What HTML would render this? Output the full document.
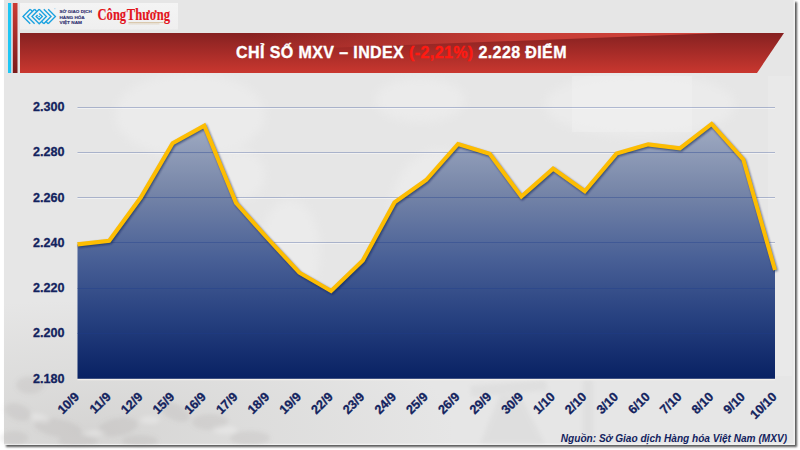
<!DOCTYPE html>
<html><head><meta charset="utf-8">
<style>
html,body{margin:0;padding:0;width:800px;height:450px;overflow:hidden;background:#ffffff;}
body{position:relative;font-family:"Liberation Sans",sans-serif;}
.abs{position:absolute;}
#card{left:4px;top:0;width:791px;height:445px;background:#e6e6e6;
 box-shadow:2px 2px 2px rgba(0,0,0,0.65), inset -1.5px -1.5px 0 rgba(255,255,255,0.45);}
#title{left:1.5px;top:44px;width:800px;text-align:center;color:#fff;font-weight:bold;font-size:16px;line-height:18px;letter-spacing:0.4px;white-space:nowrap;-webkit-text-stroke:0.35px #fff;}
#title span{-webkit-text-stroke:0.35px #ff1a12;}
#title span{color:#ff1a12;}
svg{position:absolute;left:0;top:0;}
</style></head>
<body>
<div id="card" class="abs"></div>
<svg width="800" height="450" viewBox="0 0 800 450">
 <defs>
  <linearGradient id="ban" x1="0" y1="0" x2="0" y2="1">
   <stop offset="0" stop-color="#862121"/>
   <stop offset="1" stop-color="#c9372f"/>
  </linearGradient>
  <linearGradient id="wedge" x1="250" y1="0" x2="722" y2="0" gradientUnits="userSpaceOnUse">
   <stop offset="0" stop-color="#c63c35" stop-opacity="0"/>
   <stop offset="0.55" stop-color="#c63c35" stop-opacity="1"/>
   <stop offset="1" stop-color="#d0433b" stop-opacity="1"/>
  </linearGradient>
  <linearGradient id="rbar" x1="0" y1="0" x2="0" y2="1">
   <stop offset="0" stop-color="#cc3b33"/>
   <stop offset="1" stop-color="#7a1b1b"/>
  </linearGradient>
  <linearGradient id="area" x1="0" y1="107" x2="0" y2="379" gradientUnits="userSpaceOnUse">
   <stop offset="0" stop-color="#abb5c9"/>
   <stop offset="0.3" stop-color="#7887a9"/>
   <stop offset="0.55" stop-color="#4a6197"/>
   <stop offset="0.78" stop-color="#26407f"/>
   <stop offset="1" stop-color="#082163"/>
  </linearGradient>
  <radialGradient id="beans" cx="90" cy="430" r="260" gradientUnits="userSpaceOnUse" gradientTransform="translate(90 430) scale(1.4 0.5) translate(-90 -430)">
   <stop offset="0" stop-color="#bcbab7" stop-opacity="0.4"/>
   <stop offset="0.6" stop-color="#c4c3c0" stop-opacity="0.2"/>
   <stop offset="1" stop-color="#c4c1bc" stop-opacity="0"/>
  </radialGradient>
  <linearGradient id="logop" x1="0" y1="0" x2="0" y2="1">
   <stop offset="0" stop-color="#f4f4f4"/>
   <stop offset="1" stop-color="#efefef"/>
  </linearGradient>
  <filter id="blur6" x="-50%" y="-50%" width="200%" height="200%">
   <feGaussianBlur stdDeviation="5"/>
  </filter>
  <filter id="blur2" x="-50%" y="-50%" width="200%" height="200%">
   <feGaussianBlur stdDeviation="2"/>
  </filter>
  <filter id="shd" x="-5%" y="-20%" width="110%" height="140%">
   <feGaussianBlur stdDeviation="1.1"/>
  </filter>
  <clipPath id="areaclip"><polygon points="77.5,378.7 77.5,244.4 109.2,240.8 140.9,197.3 172.6,143.3 204.3,125.6 236.0,202.8 267.7,238.5 299.4,272.7 331.1,291 362.8,260.5 394.5,202.4 426.2,180 458.0,144 489.7,153.8 521.4,196.6 553.1,168.6 584.8,191.2 616.5,153.6 648.2,144.4 679.9,148.4 711.6,124 743.3,159.5 775,270 775,378.7"/></clipPath>
 </defs>
 <!-- background -->
 <rect x="4" y="300" width="791" height="144" fill="url(#beans)"/>
 <g fill="#ffffff" opacity="0.2" filter="url(#blur6)">
  <ellipse cx="190" cy="115" rx="75" ry="42"/>
  <ellipse cx="240" cy="175" rx="25" ry="25"/>
  <ellipse cx="290" cy="250" rx="30" ry="50"/>
  <ellipse cx="420" cy="100" rx="45" ry="22"/>
  <ellipse cx="440" cy="215" rx="50" ry="65"/>
  <ellipse cx="640" cy="105" rx="95" ry="32"/>
 </g>
 <rect x="572" y="76" width="120" height="56" fill="#ffffff" opacity="0.18"/>
 <rect x="768" y="76" width="24" height="300" fill="#ffffff" opacity="0.15"/>
 <g filter="url(#blur2)">
  <g fill="#8a8580" opacity="0.13">
   <ellipse cx="18" cy="412" rx="14" ry="8" transform="rotate(20 18 412)"/>
   <ellipse cx="14" cy="438" rx="14" ry="7"/>
   <ellipse cx="58" cy="428" rx="24" ry="9" transform="rotate(10 58 428)"/>
   <ellipse cx="78" cy="441" rx="20" ry="6"/>
   <ellipse cx="118" cy="427" rx="20" ry="9" transform="rotate(-10 118 427)"/>
   <ellipse cx="140" cy="441" rx="18" ry="6"/>
   <ellipse cx="175" cy="412" rx="16" ry="8" transform="rotate(25 175 412)"/>
   <ellipse cx="210" cy="422" rx="18" ry="8"/>
   <ellipse cx="250" cy="438" rx="20" ry="7"/>
   <ellipse cx="30" cy="385" rx="14" ry="9"/>
  </g>
  <g fill="#ffffff" opacity="0.25">
   <ellipse cx="40" cy="418" rx="10" ry="4" transform="rotate(15 40 418)"/>
   <ellipse cx="95" cy="433" rx="10" ry="3"/>
   <ellipse cx="150" cy="420" rx="10" ry="4"/>
   <ellipse cx="225" cy="430" rx="12" ry="4"/>
  </g>
 </g>
 <g fill="#9a9a9a" opacity="0.09" filter="url(#blur2)">
  <polygon points="470,386 545,380 548,390 472,397"/>
  <polygon points="500,395 520,395 545,444 480,444"/>
  <rect x="583" y="380" width="10" height="64"/>
 </g>
 <!-- bars -->
 <rect x="8" y="3" width="3.2" height="70" fill="#1ec6f4"/>
 <rect x="12.8" y="3" width="4.7" height="70" fill="url(#rbar)"/>
 <!-- logo panel -->
 <rect x="20" y="3" width="158" height="26.5" fill="url(#logop)"/>
 <g fill="none" stroke="#1aa2e0" stroke-width="1.35" stroke-linejoin="miter" stroke-linecap="butt">
  <polyline points="30.2,9.3 23.0,16.5 30.2,23.7"/>
  <polyline points="34.6,9.3 27.4,16.5 34.6,23.7"/>
  <polyline points="39.2,9.3 32.0,16.5 39.2,23.7 46.4,16.5 39.2,9.3"/>
  <polyline points="43.8,9.3 51.0,16.5 43.8,23.7"/>
  <polyline points="48.2,9.3 55.4,16.5 48.2,23.7"/>
  <polyline points="30.2,9.3 32.6,11.7"/>
  <polyline points="34.6,9.3 37.0,11.7"/>
  <polyline points="48.2,23.7 45.8,21.3"/>
  <polyline points="43.8,23.7 41.4,21.3"/>
  <polyline points="39.2,13.4 42.3,16.5 39.2,19.6 36.1,16.5 37.6,15"/>
 </g>
 <circle cx="39.2" cy="16.5" r="0.8" fill="#1aa2e0"/>
 <rect x="54" y="8.6" width="1.6" height="0.5" fill="#7fc6ec"/>
 <g fill="#2c2c6e" stroke="#2c2c6e" stroke-width="0.12" font-family="Liberation Sans" font-weight="bold" font-size="4.4">
  <text x="59.5" y="13.1" textLength="32.3" lengthAdjust="spacingAndGlyphs">SỞ GIAO DỊCH</text>
  <text x="59.5" y="18.5" textLength="25.2" lengthAdjust="spacingAndGlyphs">HÀNG HÓA</text>
  <text x="59.5" y="23.8" textLength="22.5" lengthAdjust="spacingAndGlyphs">VIỆT NAM</text>
 </g>
 <text x="97.5" y="20.2" fill="#e3141c" stroke="#e3141c" stroke-width="0.15" font-family="Liberation Serif" font-weight="bold" font-size="16.5" textLength="72.5" lengthAdjust="spacingAndGlyphs" word-spacing="-3">Công Thương</text>
 <rect x="128.5" y="22.1" width="34.5" height="0.9" fill="#cdb48c" opacity="0.75"/>
 <rect x="128.5" y="23.5" width="31" height="0.8" fill="#cdb48c" opacity="0.55"/>
 <!-- banner -->
 <polygon points="20,33 784,33 757,73 20,73" fill="url(#ban)"/>
 <polygon points="250,33 722,33 250,51" fill="url(#wedge)"/>
 <!-- chart -->
 <g stroke="#ffffff" stroke-opacity="0.45" stroke-width="1">
  <line x1="77.5" y1="108.5" x2="775" y2="108.5"/>
  <line x1="77.5" y1="153.5" x2="775" y2="153.5"/>
  <line x1="77.5" y1="198.5" x2="775" y2="198.5"/>
  <line x1="77.5" y1="243.5" x2="775" y2="243.5"/>
  <line x1="77.5" y1="289.5" x2="775" y2="289.5"/>
  <line x1="77.5" y1="334.5" x2="775" y2="334.5"/>
 </g>
 <g stroke="#1f3c8c" stroke-opacity="0.3" stroke-width="1.1">
  <line x1="77.5" y1="107.5" x2="775" y2="107.5"/>
  <line x1="77.5" y1="152.5" x2="775" y2="152.5"/>
  <line x1="77.5" y1="197.5" x2="775" y2="197.5"/>
  <line x1="77.5" y1="242.5" x2="775" y2="242.5"/>
  <line x1="77.5" y1="288.5" x2="775" y2="288.5"/>
  <line x1="77.5" y1="333.5" x2="775" y2="333.5"/>
 </g>
 <polygon fill="url(#area)" points="77.5,378.7 77.5,244.4 109.2,240.8 140.9,197.3 172.6,143.3 204.3,125.6 236.0,202.8 267.7,238.5 299.4,272.7 331.1,291 362.8,260.5 394.5,202.4 426.2,180 458.0,144 489.7,153.8 521.4,196.6 553.1,168.6 584.8,191.2 616.5,153.6 648.2,144.4 679.9,148.4 711.6,124 743.3,159.5 775,270 775,378.7"/>
 <g stroke="#1f3c8c" stroke-opacity="0.36" stroke-width="1.1" clip-path="url(#areaclip)">
  <line x1="77.5" y1="107.5" x2="775" y2="107.5"/>
  <line x1="77.5" y1="152.5" x2="775" y2="152.5"/>
  <line x1="77.5" y1="197.5" x2="775" y2="197.5"/>
  <line x1="77.5" y1="242.5" x2="775" y2="242.5"/>
  <line x1="77.5" y1="288.5" x2="775" y2="288.5"/>
  <line x1="77.5" y1="333.5" x2="775" y2="333.5"/>
 </g>
 <line x1="77.5" y1="379.6" x2="775" y2="379.6" stroke="#f4f0ea" stroke-width="1.2"/>
 <polyline fill="none" stroke="#0a1a50" stroke-opacity="0.6" stroke-width="4" stroke-linejoin="miter" filter="url(#shd)" transform="translate(1,1.3)" points="77.5,244.4 109.2,240.8 140.9,197.3 172.6,143.3 204.3,125.6 236.0,202.8 267.7,238.5 299.4,272.7 331.1,291 362.8,260.5 394.5,202.4 426.2,180 458.0,144 489.7,153.8 521.4,196.6 553.1,168.6 584.8,191.2 616.5,153.6 648.2,144.4 679.9,148.4 711.6,124 743.3,159.5 775,270"/>
 <polyline fill="none" stroke="#fdbd02" stroke-width="4.1" stroke-linejoin="miter" points="77.5,244.4 109.2,240.8 140.9,197.3 172.6,143.3 204.3,125.6 236.0,202.8 267.7,238.5 299.4,272.7 331.1,291 362.8,260.5 394.5,202.4 426.2,180 458.0,144 489.7,153.8 521.4,196.6 553.1,168.6 584.8,191.2 616.5,153.6 648.2,144.4 679.9,148.4 711.6,124 743.3,159.5 775,270"/>
 <g fill="#13235e" stroke="#13235e" stroke-width="0.3" font-family="Liberation Sans" font-weight="bold" font-size="12.6" text-anchor="end">
  <text x="64.5" y="111">2.300</text>
  <text x="64.5" y="156.3">2.280</text>
  <text x="64.5" y="201.6">2.260</text>
  <text x="64.5" y="246.9">2.240</text>
  <text x="64.5" y="292.1">2.220</text>
  <text x="64.5" y="337.4">2.200</text>
  <text x="64.5" y="382.7">2.180</text>
 </g>
 <g fill="#13235e" stroke="#13235e" stroke-width="0.3" font-family="Liberation Sans" font-weight="bold" font-size="12.6" text-anchor="end">
  <text transform="translate(80,397.5) rotate(-45)">10/9</text>
  <text transform="translate(111.7,397.5) rotate(-45)">11/9</text>
  <text transform="translate(143.4,397.5) rotate(-45)">12/9</text>
  <text transform="translate(175.1,397.5) rotate(-45)">15/9</text>
  <text transform="translate(206.8,397.5) rotate(-45)">16/9</text>
  <text transform="translate(238.5,397.5) rotate(-45)">17/9</text>
  <text transform="translate(270.2,397.5) rotate(-45)">18/9</text>
  <text transform="translate(301.9,397.5) rotate(-45)">19/9</text>
  <text transform="translate(333.6,397.5) rotate(-45)">22/9</text>
  <text transform="translate(365.3,397.5) rotate(-45)">23/9</text>
  <text transform="translate(397,397.5) rotate(-45)">24/9</text>
  <text transform="translate(428.7,397.5) rotate(-45)">25/9</text>
  <text transform="translate(460.5,397.5) rotate(-45)">26/9</text>
  <text transform="translate(492.2,397.5) rotate(-45)">29/9</text>
  <text transform="translate(523.9,397.5) rotate(-45)">30/9</text>
  <text transform="translate(555.6,397.5) rotate(-45)">1/10</text>
  <text transform="translate(587.3,397.5) rotate(-45)">2/10</text>
  <text transform="translate(619,397.5) rotate(-45)">3/10</text>
  <text transform="translate(650.7,397.5) rotate(-45)">6/10</text>
  <text transform="translate(682.4,397.5) rotate(-45)">7/10</text>
  <text transform="translate(714.1,397.5) rotate(-45)">8/10</text>
  <text transform="translate(745.8,397.5) rotate(-45)">9/10</text>
  <text transform="translate(777.5,397.5) rotate(-45)">10/10</text>
 </g>
 <text x="787" y="441.5" text-anchor="end" fill="#13235e" font-family="Liberation Sans" font-weight="bold" font-style="italic" font-size="10.1">Nguồn: Sở Giao dịch Hàng hóa Việt Nam (MXV)</text>
</svg>
<div id="title" class="abs">CHỈ SỐ MXV – INDEX <span>(-2,21%)</span> 2.228 ĐIỂM</div>
</body></html>
